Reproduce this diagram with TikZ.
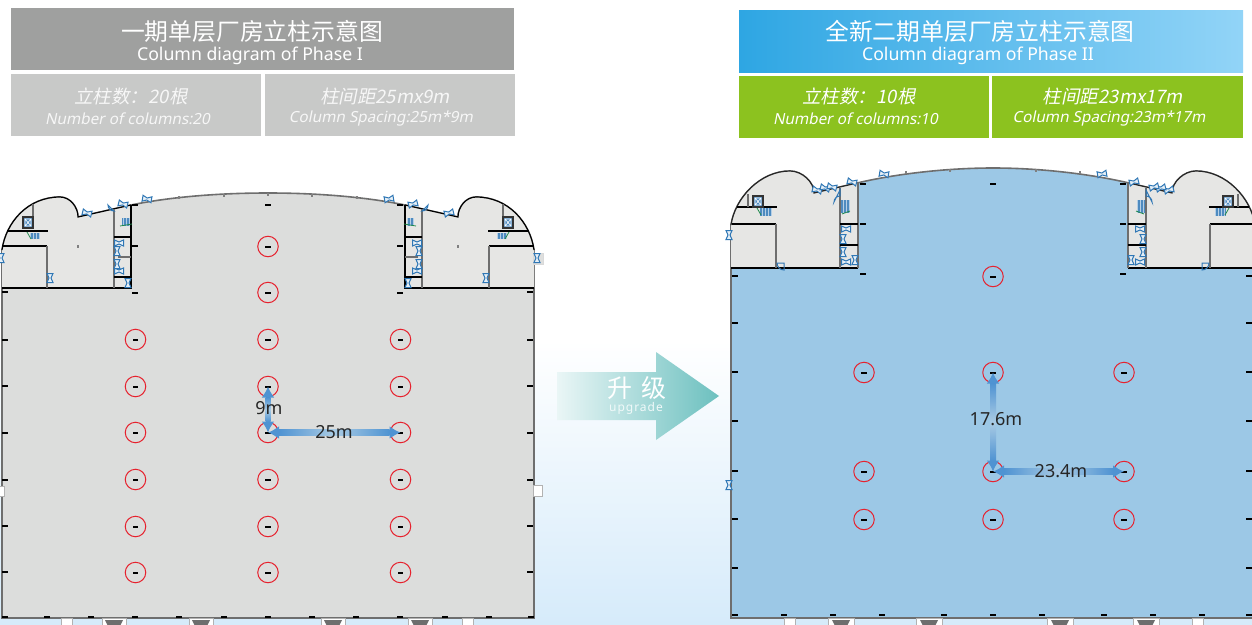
\documentclass[tikz,border=0pt]{standalone}
\usepackage{fontspec}
\setmainfont{Noto Sans}
\newfontfamily\cjk{Noto Sans CJK SC}
\newfontfamily\cjkit[FakeSlant=0.2]{Noto Sans CJK SC}
\newfontfamily\latit[FakeSlant=0.2]{Noto Sans}
\usetikzlibrary{positioning,calc,arrows.meta}
\definecolor{headgray}{HTML}{9FA09F}
\definecolor{subgray}{HTML}{C8C9C8}
\definecolor{subgreen}{HTML}{8CC21F}
\definecolor{headblueA}{HTML}{2EA6E3}
\definecolor{headblueB}{HTML}{92D4F7}
\definecolor{floorgray}{HTML}{DCDDDC}
\definecolor{floorblue}{HTML}{9CC8E6}
\definecolor{wingfill}{HTML}{E6E6E4}
\definecolor{doorblue}{HTML}{2F77B5}
\definecolor{stairgreen}{HTML}{1F8A4C}
\definecolor{wallgray}{HTML}{6E6E6E}
\definecolor{colred}{HTML}{E6222E}
\definecolor{dimend}{HTML}{4F93D2}
\definecolor{dimmid}{HTML}{A9CBE4}
\definecolor{bgblue}{HTML}{D6EBFA}
\definecolor{arrowA}{HTML}{EAF6F6}
\definecolor{arrowB}{HTML}{6CC0BF}
\tikzset{
    boxnode/.style={inner sep=0pt,align=center,text=white},
    colnode/.style={circle,draw=colred,line width=1pt,minimum size=20.5pt,inner sep=0pt},
    wall/.style={black,line width=1.2pt},
    graywall/.style={wallgray,line width=1.8pt},
    doorsym/.style={draw=doorblue,fill=doorblue!12,line width=1pt},
    dimtip/.style={dimend,line width=3pt,{Latex[length=11pt,width=13pt]}-{Latex[length=11pt,width=13pt]}},
    dimtext/.style={inner sep=0pt,font=\fontsize{18}{18}\selectfont,text=black!85},
    dockbox/.style={fill=white,draw=gray!60,line width=0.8pt}
}
% small marks
\newcommand{\tickmark}[2]{\fill[black] (#1-2.6,#2-1) rectangle (#1+2.6,#2+1);}
\newcommand{\faintmark}[2]{\fill[gray] (#1-1,#2-1.5) rectangle (#1+1,#2+1.5);}
\newcommand{\doormark}[3]{\draw[doorsym,shift={(#1,#2)},rotate=#3] (-4.5,-3) -- (0,-1) -- (4.5,-3) -- (4.5,3) -- (0,1) -- (-4.5,3) -- cycle;}
\newcommand{\stairmark}[4]{%
    \fill[doorblue!85] (#1,#2) rectangle (#3,#4);
    \draw[doorblue!35,line width=0.4pt,step=3] (#1,#2) grid (#3,#4);}
\newcommand{\liftmark}[2]{%
    \draw[black!80,line width=1.3pt,fill=doorblue!85] (#1,#2) rectangle (#1+10,#2+11);
    \draw[white,line width=0.6pt] (#1+2,#2+2) rectangle (#1+8,#2+9) (#1+2,#2+2) -- (#1+8,#2+9) (#1+2,#2+9) -- (#1+8,#2+2);}
\begin{document}
\begin{tikzpicture}[x=1pt,y=-1pt]
    \useasboundingbox (0,0) rectangle (1252,624);
    % Background
    \fill[white] (0,0) rectangle (1252,624);
    \shade[top color=white,bottom color=bgblue] (0,340) rectangle (1252,624);
    % Left header
    \node[boxnode,fill=headgray,minimum width=503pt,minimum height=62pt] (lhead) at (262.5,39) {};
    \node[boxnode,fill=subgray,minimum width=250pt,minimum height=62pt] (lsubA) at (136,105) {};
    \node[boxnode,fill=subgray,minimum width=250pt,minimum height=62pt] (lsubB) at (390,105) {};
    \node[boxnode,font=\cjk\fontsize{23.8}{24}\selectfont] (ltitle) at (252,31) {一期单层厂房立柱示意图};
    \node[boxnode,font=\fontsize{17.7}{18}\selectfont] (lsubtitle) at (250,56) {Column diagram of Phase I};
    \node[boxnode,font=\cjkit\fontsize{18.5}{18}\selectfont,text=white!85!subgray] (lnumcn) at (131,96) {立柱数：20根};
    \node[boxnode,font=\latit\fontsize{15.3}{15}\selectfont,text=white!85!subgray] (lnumen) at (127.5,119) {Number of columns:20};
    \node[boxnode,font=\cjkit\fontsize{18.5}{18}\selectfont,text=white!85!subgray] (lgapcn) at (385,96) {柱间距25mx9m};
    \node[boxnode,font=\latit\fontsize{15.3}{15}\selectfont,text=white!85!subgray] (lgapen) at (381,119) {Column Spacing:25m*9m};
    % Right header
    \node[boxnode,left color=headblueA,right color=headblueB,minimum width=504pt,minimum height=62.5pt] (rhead) at (991,41.5) {};
    \node[boxnode,fill=subgreen,minimum width=250pt,minimum height=62pt] (rsubA) at (864,107) {};
    \node[boxnode,fill=subgreen,minimum width=251pt,minimum height=62pt] (rsubB) at (1117.5,107) {};
    \node[boxnode,font=\cjk\fontsize{23.8}{24}\selectfont] (rtitle) at (980,31) {全新二期单层厂房立柱示意图};
    \node[boxnode,font=\fontsize{17.7}{18}\selectfont] (rsubtitle) at (978,56) {Column diagram of Phase II};
    \node[boxnode,font=\cjkit\fontsize{18.5}{18}\selectfont] (rnumcn) at (859,96) {立柱数：10根};
    \node[boxnode,font=\latit\fontsize{15.3}{15}\selectfont] (rnumen) at (855.5,119) {Number of columns:10};
    \node[boxnode,font=\cjkit\fontsize{18.5}{18}\selectfont] (rgapcn) at (1113,96) {柱间距23mx17m};
    \node[boxnode,font=\latit\fontsize{15.3}{15}\selectfont] (rgapen) at (1109,119) {Column Spacing:23m*17m};
    % Upgrade arrow
    \shade[left color=arrowA,right color=arrowB]
        (557,372) -- (656,372) -- (656,352) -- (719,396) -- (656,440) -- (656,420) -- (557,420) -- cycle;
    \node[boxnode,font=\cjk\fontsize{25}{25}\selectfont] (upcn) at (637,388) {升\,\,级};
    \node[boxnode,font=\fontsize{12}{12}\selectfont,text=white!90!arrowB] (upen) at (636,408) {\addfontfeature{LetterSpace=8}upgrade};
    % Phase I floor
    \draw[fill=floorgray,draw=wallgray,line width=1.6pt] (2,618) -- (2,250) .. controls (6,222) and (28,197) .. (60,197)
        .. controls (70,197) and (78,207) .. (78,217) -- (131,205) .. controls (175,196) and (225,193) .. (268,193)
        .. controls (311,193) and (361,196) .. (405,205) -- (458,217) .. controls (458,207) and (466,197) .. (476,197)
        .. controls (508,197) and (530,222) .. (534,250) -- (534,618) -- cycle;
    % Phase I wings, the right one is the mirror of the left one
    \foreach \wingshift/\wingscale in {0/1,536/-1} {
        \begin{scope}[xshift=\wingshift,xscale=\wingscale]
            \fill[wingfill] (2,288) -- (2,250) .. controls (6,222) and (28,197) .. (60,197)
                .. controls (70,197) and (78,207) .. (78,217) -- (131,205) -- (131,288) -- cycle;
            \draw[black,line width=1.2pt] (2,250) .. controls (6,222) and (28,197) .. (60,197)
                .. controls (70,197) and (78,207) .. (78,217) -- (131,205);
            \draw[wall] (2,288) -- (131,288) -- (131,205);
            \draw[wall] (2,246) -- (47,246);
            \draw[wall] (7,231) -- (48,231);
            \draw[graywall] (47,246) -- (47,288);
            \draw[graywall] (33,204) -- (33,216);
            \draw[graywall] (114,209) -- (114,288);
            \draw[wall] (114,237) -- (131,237);
            \draw[graywall] (118,257) -- (131,257);
            \draw[wall] (114,277) -- (131,277);
            \liftmark{23}{217}
            \stairmark{30}{233}{39}{239}
            \draw[stairgreen,line width=0.8pt] (27,232) -- (31,239);
            \stairmark{122}{218}{129}{226}
            \draw[stairgreen,line width=0.8pt] (120,226) -- (132,224);
            \doormark{87}{213}{-14}
            \doormark{123}{204}{-14}
            \doormark{147}{199}{-10}
            \doormark{50}{278}{90}
            \doormark{119}{243}{0}
            \doormark{117}{251}{90}
            \doormark{119}{271}{0}
            \doormark{117}{264}{90}
            \doormark{128}{283}{90}
            \draw[doorblue,line width=1pt] (114,211) arc (90:180:6) -- cycle;
        \end{scope}
    }
    \draw[fill=subgray!60,draw=gray!30] (533,253) rectangle (543,264);
    \doormark{537}{258}{90}
    \doormark{1}{258}{90}
    \draw[dockbox] (-3,486) rectangle (4,496);
    \draw[dockbox] (533,485) rectangle (542,496);
    % Phase I perimeter marks
    \foreach \ty in {292,340,386,433,480,526,572} {
        \tickmark{5}{\ty}
        \tickmark{530}{\ty}
    }
    \foreach \tx in {5,47,91,135,179,224,268,312,356,400,445,489,531} {
        \tickmark{\tx}{617}
    }
    \foreach \tx/\ty in {179/197,224/195,268/194,312/195,357/197} {
        \faintmark{\tx}{\ty}
    }
    \foreach \tx/\ty in {135/205,268/205,400/205,135/246,400/246,135/293,400/293} {
        \tickmark{\tx}{\ty}
    }
    \foreach \tx/\ty in {78/246,458/246} {
        \faintmark{\tx}{\ty}
    }
    % Phase I docks
    \foreach \dx in {102,189,321,408} {
        \draw[dockbox] (\dx,618) rectangle (\dx+24,626);
        \fill[wallgray] (\dx+3,620) -- (\dx+21,620) -- (\dx+18,626) -- (\dx+6,626) -- cycle;
    }
    \foreach \dx in {61,462} {
        \draw[dockbox] (\dx,618) rectangle (\dx+11,626);
    }
    % Phase I columns
    \node[colnode] (lb1) at (268,246.5) {};
    \node[colnode] (lb2) at (268,292.5) {};
    \tickmark{268}{246.5}
    \tickmark{268}{292.5}
    \foreach \nm/\cx in {a/135.5,b/268,c/400.5} {
        \foreach \cy [count=\i from 3] in {339.5,386.5,432.5,479.5,526.5,572.5} {
            \node[colnode] (l\nm\i) at (\cx,\cy) {};
            \tickmark{\cx}{\cy}
        }
    }
    % Phase II floor
    \draw[fill=floorblue,draw=wallgray,line width=1.6pt] (731,618) -- (731,225) .. controls (735,198) and (760,171) .. (790,171)
        .. controls (802,171) and (814,182) .. (814,193) -- (857,183) .. controls (900,173) and (950,168) .. (993,168)
        .. controls (1036,168) and (1086,173) .. (1129,183) -- (1172,193) .. controls (1172,182) and (1184,171) .. (1196,171)
        .. controls (1226,171) and (1251,198) .. (1255,225) -- (1255,618) -- cycle;
    % Phase II wings
    \foreach \wingshift/\wingscale in {0/1,1986/-1} {
        \begin{scope}[xshift=\wingshift,xscale=\wingscale]
            \fill[wingfill] (731,268) -- (731,225) .. controls (735,198) and (760,171) .. (790,171)
                .. controls (802,171) and (814,182) .. (814,193) -- (857,183) -- (857,268) -- cycle;
            \draw[black!85,line width=1.2pt] (731,225) .. controls (735,198) and (760,171) .. (790,171)
                .. controls (802,171) and (814,182) .. (814,193) -- (857,183);
            \draw[wall] (731,268) -- (858,268);
            \draw[graywall] (858,183) -- (858,268);
            \draw[wall] (732,224) -- (776,224);
            \draw[wall] (737,207) -- (777,207);
            \draw[graywall] (776,224) -- (776,268);
            \draw[graywall] (840,188) -- (840,268);
            \draw[graywall] (748,194) -- (748,207);
            \draw[wall] (840,224) -- (858,224);
            \draw[wall] (840,245) -- (858,245);
            \liftmark{753}{196}
            \stairmark{760}{208}{771}{216}
            \draw[stairgreen,line width=0.8pt] (757,208) -- (761,215);
            \stairmark{841}{200}{849}{213}
            \draw[stairgreen,line width=0.8pt] (842,214) -- (850,211);
            \doormark{817}{190}{-14}
            \doormark{825}{188}{-14}
            \doormark{832}{187}{-14}
            \doormark{852}{182}{-14}
            \doormark{884}{174}{-10}
            \doormark{846}{229}{0}
            \doormark{843}{239}{90}
            \doormark{846}{262}{0}
            \doormark{843}{252}{90}
            \doormark{855}{260}{90}
            \draw[doorblue,line width=1pt] (777,263) arc (180:90:7) -- (784,263) -- cycle;
            \draw[doorblue,line width=1pt] (840,196) arc (-90:-180:6) -- (840,190) -- cycle;
        \end{scope}
    }
    \doormark{729}{235}{90}
    \doormark{729}{485}{90}
    % Phase II perimeter marks
    \foreach \ty in {276,323,372,421,471,519,568} {
        \tickmark{735}{\ty}
        \tickmark{1249}{\ty}
    }
    \foreach \tx in {735,784,833,882,944,993,1042,1104,1153,1202,1249} {
        \tickmark{\tx}{615}
    }
    \foreach \tx/\ty in {906/172,950/170,1036/170,1080/172} {
        \faintmark{\tx}{\ty}
    }
    \foreach \tx/\ty in {993/184,863/184,1123/184,863/224,1123/224,863/274,1123/274} {
        \tickmark{\tx}{\ty}
    }
    % Phase II docks
    \foreach \dx in {828,916,1047,1133} {
        \draw[dockbox] (\dx,618) rectangle (\dx+26,626);
        \fill[wallgray] (\dx+4,620) -- (\dx+22,620) -- (\dx+19,626) -- (\dx+7,626) -- cycle;
    }
    \foreach \dx in {784,1192} {
        \draw[dockbox] (\dx,618) rectangle (\dx+11,626);
    }
    % Phase II columns
    \node[colnode] (rb0) at (993,276.5) {};
    \tickmark{993}{276.5}
    \foreach \nm/\cx in {a/864,b/993,c/1124} {
        \foreach \cy [count=\i] in {372.5,471.5,519.5} {
            \node[colnode] (r\nm\i) at (\cx,\cy) {};
            \tickmark{\cx}{\cy}
        }
    }
    % Dimensions Phase I
    \draw[dimtip] (lb4.center) -- (lb5.center);
    \shade[top color=dimend,bottom color=dimend,middle color=dimmid] ($(lb4.center)+(-2.5,11)$) rectangle ($(lb5.center)+(2.5,-11)$);
    \draw[dimtip] (lb5.center) -- (lc5.center);
    \shade[left color=dimend,right color=dimend,middle color=dimmid] ($(lb5.center)+(11,-3)$) rectangle ($(lc5.center)+(-11,3)$);
    \node[dimtext] (dimnine) at (269,408) {9m};
    \node[dimtext] (dimtwentyfive) at (334,432) {25m};
    % Dimensions Phase II
    \draw[dimtip] (rb1.center) -- (rb2.center);
    \shade[top color=dimend,bottom color=dimend,middle color=dimmid] ($(rb1.center)+(-3,11)$) rectangle ($(rb2.center)+(3,-11)$);
    \draw[dimtip] (rb2.center) -- (rc2.center);
    \shade[left color=dimend,right color=dimend,middle color=dimmid] ($(rb2.center)+(11,-3)$) rectangle ($(rc2.center)+(-11,3)$);
    \node[dimtext] (dimseventeen) at (996,419) {17.6m};
    \node[dimtext] (dimtwentythree) at (1061,471) {23.4m};
\end{tikzpicture}
\end{document}
